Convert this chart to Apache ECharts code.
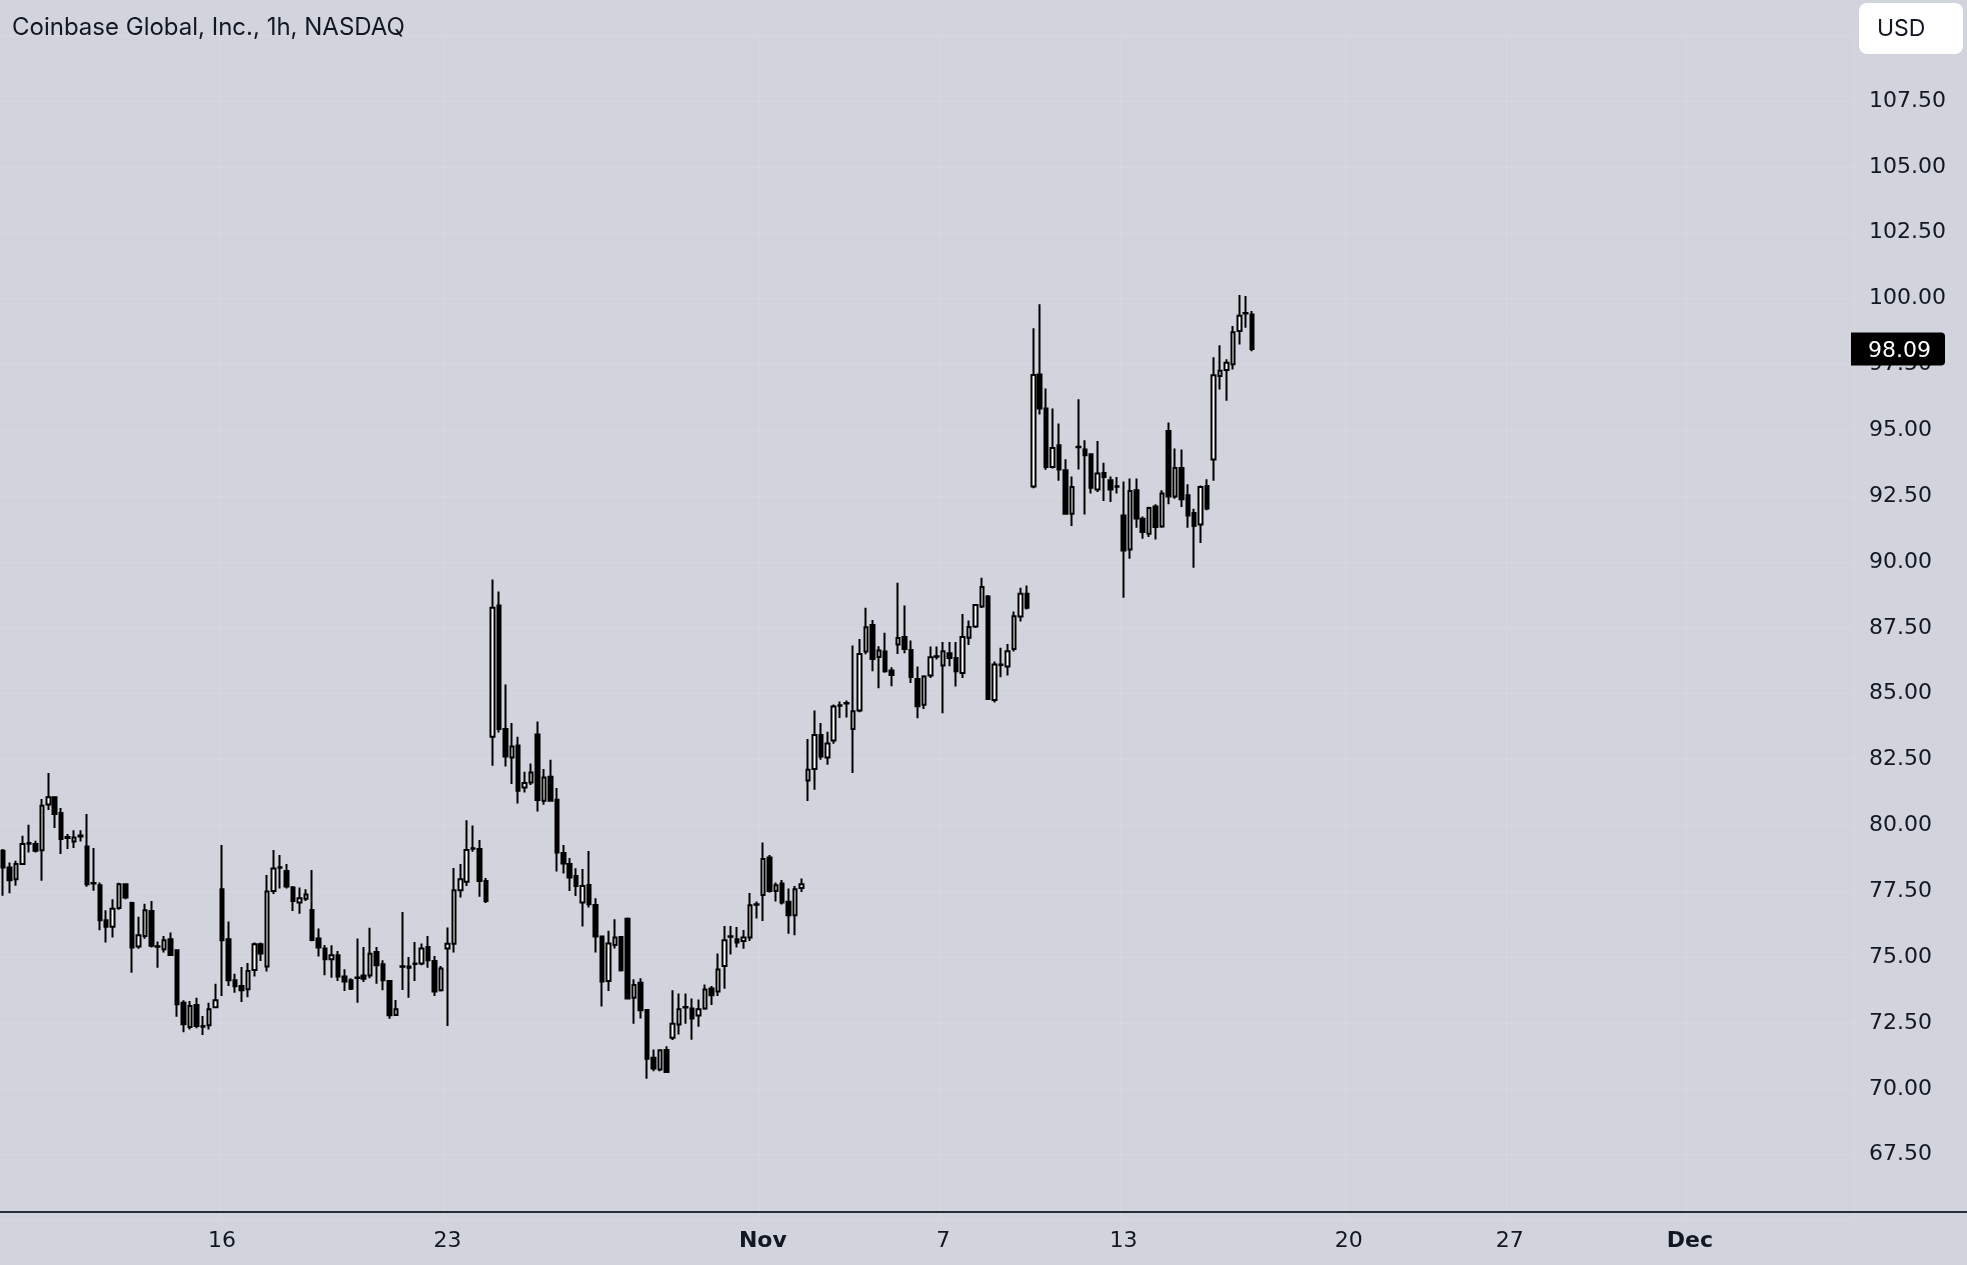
<!DOCTYPE html>
<html>
<head>
<meta charset="utf-8">
<script src="https://cdn.jsdelivr.net/npm/echarts@6/dist/echarts.min.js"></script>
<style>
html,body{margin:0;padding:0;background:#d1d4dc;}
#c{width:1967px;height:1265px;}
</style>
</head>
<body>
<div id="c"></div>
<script>
// ---- Data (Coinbase Global, 1h bars) ----
const title = 'Coinbase Global, Inc., 1h, NASDAQ';
const currency = 'USD';
const sessionHours = ['09:30','10:30','11:30','12:30','13:30','14:30','15:30'];
const tradingDays = ['2023-10-09','2023-10-10','2023-10-11','2023-10-12','2023-10-13',
  '2023-10-16','2023-10-17','2023-10-18','2023-10-19','2023-10-20',
  '2023-10-23','2023-10-24','2023-10-25','2023-10-26','2023-10-27',
  '2023-10-30','2023-10-31','2023-11-01','2023-11-02','2023-11-03',
  '2023-11-06','2023-11-07','2023-11-08','2023-11-09','2023-11-10',
  '2023-11-13','2023-11-14','2023-11-15','2023-11-16','2023-11-17',
  '2023-11-20','2023-11-21','2023-11-22','2023-11-24',
  '2023-11-27','2023-11-28','2023-11-29','2023-11-30','2023-12-01',
  '2023-12-04','2023-12-05','2023-12-06'];
const halfDays = {'2023-11-24': 4};
const firstVisibleBar = '2023-10-09 10:30';
const totalSlots = 288;
const tickDays = ['2023-10-16','2023-10-23','2023-11-01','2023-11-07','2023-11-13','2023-11-20','2023-11-27','2023-12-01'];
const tickLabels = ['16','23','Nov','7','13','20','27','Dec'];
const boldTicks = ['Nov','Dec'];
const priceTicks = [67.5,70,72.5,75,77.5,80,82.5,85,87.5,90,92.5,95,97.5,100,102.5,105,107.5];

const open = [
79.04,78.40,77.96,78.53,79.30,79.29,79.06,80.79,81.07,80.47,
79.56,79.39,79.58,79.20,77.79,77.73,76.40,76.15,76.86,77.77,
77.05,75.40,75.80,76.75,75.41,75.30,75.68,75.26,73.27,72.35,
73.18,72.38,72.41,73.10,77.58,75.68,74.12,73.90,73.78,74.51,
75.49,74.64,77.51,78.39,78.27,77.64,77.07,77.22,76.79,75.71,
75.33,74.92,75.07,74.26,74.12,74.21,74.30,74.30,75.19,74.73,
74.09,72.80,74.63,74.64,74.74,74.76,75.38,74.85,73.74,75.33,
75.51,77.54,77.86,79.11,79.10,77.89,83.37,88.35,83.66,82.58,
83.03,81.44,81.63,83.45,80.94,81.85,80.97,78.95,78.53,78.08,
77.07,77.74,76.98,75.78,74.09,75.46,75.76,76.46,73.46,74.03,
72.99,71.18,70.73,71.47,71.94,72.44,73.09,73.05,72.78,73.05,
73.81,73.69,74.66,75.77,75.68,75.61,75.74,76.99,77.36,78.78,
77.51,77.79,77.10,76.59,77.62,81.70,82.14,83.43,82.58,83.22,
84.54,84.63,83.66,84.36,86.60,87.61,86.39,86.60,85.88,86.87,
87.15,86.66,85.56,84.58,85.69,86.40,86.07,86.54,86.36,85.79,
87.12,87.55,88.31,88.69,84.76,86.09,86.03,86.70,87.93,88.79,
92.87,97.12,95.83,93.61,94.43,93.48,91.83,94.36,94.27,94.09,
92.75,93.38,93.10,92.86,91.77,90.47,92.72,91.64,91.07,92.11,
91.35,94.97,92.49,93.57,92.53,91.86,91.42,92.89,93.89,97.06,
97.29,97.51,98.77,99.43,99.40];
const close = [
78.40,77.92,78.53,79.29,79.33,79.04,80.75,81.07,80.43,79.48,
79.52,79.54,79.62,77.77,77.81,76.40,76.15,76.84,77.77,77.26,
75.36,75.83,76.78,75.43,75.39,75.64,75.08,73.21,72.45,73.14,
72.38,72.36,73.02,73.36,75.64,74.12,73.89,73.74,74.47,75.49,
75.14,77.49,78.36,78.41,77.68,77.13,77.23,77.38,75.65,75.36,
74.92,75.07,74.26,74.07,73.80,74.23,74.18,75.13,74.69,74.12,
72.79,73.02,74.65,74.60,74.76,75.33,74.88,73.69,74.57,75.51,
77.54,77.96,79.07,79.13,77.89,77.13,88.26,83.66,82.62,83.00,
81.32,81.61,82.01,80.96,81.82,80.94,78.97,78.55,78.02,77.70,
77.70,77.01,75.78,74.07,75.52,75.74,74.50,73.43,73.94,72.98,
71.14,70.77,71.46,70.64,72.47,73.02,73.11,72.67,73.02,73.77,
73.55,74.53,75.64,75.79,75.55,75.74,76.97,77.01,78.72,77.51,
77.73,77.07,76.59,77.58,77.77,82.11,83.43,82.62,83.11,84.51,
84.56,84.65,84.33,86.51,87.52,86.32,86.64,85.85,85.71,87.11,
86.70,85.63,84.52,85.65,86.38,86.42,86.61,86.36,85.85,87.15,
87.53,88.37,89.05,84.80,86.11,86.11,86.61,87.94,88.79,88.26,
97.10,95.83,93.61,94.33,93.51,91.83,92.85,94.38,94.05,92.82,
93.36,93.23,92.75,92.88,90.44,92.70,91.65,91.14,92.05,91.33,
92.60,92.49,93.57,92.38,91.77,91.37,92.85,92.03,97.09,97.26,
97.56,98.72,99.35,99.45,98.09];
const low = [
77.33,77.42,77.71,78.50,78.97,78.97,77.90,80.58,79.90,78.91,
79.10,79.14,79.39,77.67,77.52,76.02,75.55,75.74,76.80,77.20,
74.41,75.32,75.70,75.36,74.60,75.17,75.04,72.74,72.15,72.25,
72.30,72.04,72.25,73.08,73.52,73.90,73.65,73.30,73.48,74.26,
74.85,74.45,77.40,77.60,77.60,76.75,76.65,77.13,75.60,75.02,
74.31,74.22,74.09,73.71,73.75,73.27,74.05,74.20,73.99,73.74,
72.66,72.78,73.75,73.46,74.09,74.69,74.60,73.52,73.69,72.38,
75.17,77.26,77.70,79.00,77.29,77.05,82.26,83.53,82.24,81.57,
80.83,81.25,81.53,80.53,80.78,80.91,78.25,78.17,77.51,77.32,
76.16,76.88,75.17,73.12,73.71,75.33,74.45,73.40,72.47,72.67,
70.38,70.67,70.67,70.62,71.85,72.06,72.47,71.86,72.36,73.00,
73.18,73.52,73.80,75.10,75.36,75.32,75.61,76.47,76.37,77.45,
77.11,77.00,75.89,75.83,77.47,80.93,81.35,82.49,82.30,83.10,
84.08,84.10,81.99,84.30,86.50,85.85,85.21,85.80,85.28,86.51,
86.54,85.41,84.07,84.42,85.60,86.30,84.26,86.04,85.27,85.60,
86.85,87.49,88.25,84.76,84.67,85.62,85.69,86.60,87.74,88.20,
92.80,95.60,93.50,93.55,93.08,91.80,91.37,93.51,91.80,92.60,
92.66,92.32,92.28,92.60,88.64,90.12,91.30,90.88,90.95,90.85,
91.30,92.19,92.40,92.09,91.30,89.78,90.72,91.96,93.08,96.55,
96.12,97.31,98.26,98.89,98.00];
const high = [
79.10,78.59,78.66,79.61,80.02,79.42,81.00,81.99,81.07,80.66,
79.67,79.82,79.82,80.43,79.14,77.83,76.78,77.20,77.82,77.80,
77.10,76.53,77.03,77.13,75.59,75.80,75.93,75.30,73.36,73.33,
73.46,72.76,73.27,73.99,79.26,76.35,74.37,74.62,74.78,75.55,
75.55,78.12,79.07,78.88,78.53,77.70,77.64,77.58,78.31,76.09,
75.46,75.45,75.23,74.54,74.20,75.71,75.38,76.11,75.38,74.88,
74.10,73.37,76.71,75.00,75.57,75.52,75.80,75.04,74.66,76.12,
78.38,78.53,80.20,80.00,79.45,78.00,89.34,88.88,85.35,83.89,
83.37,82.04,82.35,83.94,82.14,82.49,81.42,79.26,78.76,78.37,
78.34,79.03,77.23,75.80,76.00,76.44,75.80,76.50,74.16,74.20,
73.01,71.49,71.49,71.62,73.74,73.62,73.62,73.43,73.39,73.96,
73.90,75.14,76.18,76.18,76.14,76.03,77.43,77.11,79.35,78.88,
77.83,77.93,77.60,77.70,77.98,83.28,84.36,83.89,83.56,84.59,
84.70,84.74,86.83,87.08,88.26,87.80,86.80,87.31,86.00,89.21,
88.35,87.02,86.03,85.70,86.79,86.79,86.96,86.96,86.96,88.03,
87.78,88.40,89.40,88.75,86.22,86.74,86.89,88.12,89.02,89.11,
98.87,99.79,96.59,95.83,95.26,93.90,93.25,96.18,94.62,94.10,
94.59,93.77,93.25,93.23,93.06,93.17,93.17,91.73,92.10,92.19,
92.72,95.30,94.31,94.27,92.95,92.02,92.90,93.14,97.77,98.23,
97.70,98.96,100.14,100.10,99.53];

// ---- Build categories (hourly slots) ----
let allBars = [];
tradingDays.forEach(d => {
  const n = halfDays[d] || sessionHours.length;
  for (let k = 0; k < n; k++) allBars.push(d + ' ' + sessionHours[k]);
});
const startIdx = allBars.indexOf(firstVisibleBar);
const categories = allBars.slice(startIdx, startIdx + totalSlots);
const tickMap = {};
tickDays.forEach((d, i) => { tickMap[d + ' 09:30'] = tickLabels[i]; });
const candleData = open.map((o, i) => [o, close[i], low[i], high[i]]);

const FONT = 'Inter, "Noto Sans", "Liberation Sans", sans-serif';
const AXFONT = '"DejaVu Sans", Inter, sans-serif';
const TEXT = '#131722';
const chart = echarts.init(document.getElementById('c'), null, {renderer: 'canvas'});

const slotW = 6.4496;
const gridLeft = -3.4;
const pxPerUnit = 26.34;
const yMin = 65, yMax = 110;
const y100 = 298.6;
const gridTop = y100 - (yMax - 100) * pxPerUnit;
const gridBottomY = y100 + (100 - yMin) * pxPerUnit;

chart.setOption({
  animation: false,
  backgroundColor: '#d1d4dc',
  title: {
    text: title, left: 7, top: 11,
    textStyle: {fontFamily: FONT, fontSize: 24, fontWeight: 'normal', color: TEXT}
  },
  grid: {
    left: gridLeft,
    top: gridTop,
    width: totalSlots * slotW,
    height: gridBottomY - gridTop,
    containLabel: false
  },
  xAxis: {
    type: 'category',
    data: categories,
    boundaryGap: true,
    offset: -(gridBottomY - 1212),
    axisLine: {show: true, lineStyle: {color: '#2a2e39', width: 2}},
    axisTick: {show: false},
    axisLabel: {
      interval: (idx, val) => tickMap[val] !== undefined,
      formatter: (val) => {
        const t = tickMap[val];
        if (t === undefined) return '';
        return boldTicks.includes(t) ? '{b|' + t + '}' : t;
      },
      margin: 18,
      fontFamily: AXFONT, fontSize: 22, color: TEXT,
      rich: {b: {fontFamily: AXFONT, fontSize: 22, fontWeight: 'bold', color: TEXT}}
    },
    splitLine: {
      show: true,
      interval: (idx, val) => tickMap[val] !== undefined,
      lineStyle: {color: 'rgba(255,255,255,0.1)', width: 1}
    }
  },
  yAxis: {
    type: 'value',
    position: 'right',
    min: yMin, max: yMax, interval: 2.5,
    axisLine: {show: false},
    axisTick: {show: false},
    axisLabel: {
      margin: 15,
      align: 'left',
      padding: [5, 0, 0, 0],
      fontFamily: AXFONT, fontSize: 22, color: TEXT,
      formatter: v => (v >= priceTicks[0] - 0.01 && v <= priceTicks[priceTicks.length - 1] + 0.01) ? v.toFixed(2) : ''
    },
    splitLine: {show: true, lineStyle: {color: 'rgba(255,255,255,0.1)', width: 1}}
  },
  series: [{
    type: 'candlestick',
    data: candleData,
    barWidth: 4,
    itemStyle: {
      color: '#ffffff', color0: '#000000',
      borderColor: '#000000', borderColor0: '#000000',
      borderWidth: 2
    }
  }]
});

// overlays: currency box, last price tag, axis line across price scale
const lastClose = close[close.length - 1];
const py = chart.convertToPixel({yAxisIndex: 0}, lastClose);
const gridRight = gridLeft + totalSlots * slotW;
chart.setOption({
  graphic: [
    {type: 'rect', z: 100, shape: {x: gridRight, y: 1211, width: 1967 - gridRight, height: 2}, style: {fill: '#2a2e39'}},
    {type: 'rect', z: 100, shape: {x: 1859, y: 3, width: 104, height: 51, r: 8}, style: {fill: '#ffffff'}},
    {type: 'text', z: 101, style: {x: 1877, y: 29, text: currency, font: '23px ' + FONT, fill: TEXT, verticalAlign: 'middle'}},
    {type: 'rect', z: 100, shape: {x: 1851, y: py - 16.5, width: 94, height: 33, r: [0, 4, 4, 0]}, style: {fill: '#000000'}},
    {type: 'text', z: 101, style: {x: 1868, y: py + 2, text: lastClose.toFixed(2), font: '22px ' + AXFONT, fill: '#ffffff', verticalAlign: 'middle'}}
  ]
});
</script>
</body>
</html>
